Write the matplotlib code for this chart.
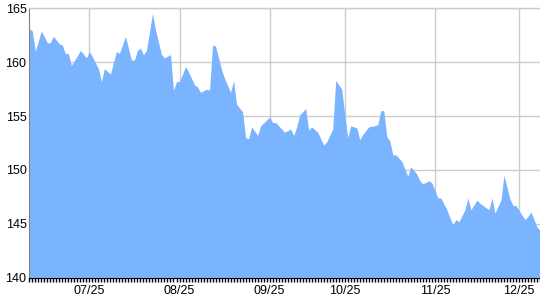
import matplotlib
matplotlib.use("Agg")
import matplotlib.pyplot as plt
from matplotlib.ticker import MultipleLocator

# trading-day index and closing values
days = [0, 1, 2, 4, 6, 7, 8, 10, 11, 12, 13, 14, 16, 17, 19, 20, 21, 23, 24, 25,
        27, 29, 30, 32, 34, 35, 36, 37, 38, 39, 41, 42, 44, 45, 47, 48, 49, 50,
        52, 53, 55, 56, 57, 59, 60, 61, 62, 64, 65, 67, 68, 69, 71, 72, 73, 74,
        76, 77, 80, 81, 82, 84, 85, 87, 88, 89, 90, 92, 93, 94, 96, 97, 98, 99,
        101, 102, 104, 105, 106, 107, 109, 110, 111, 113, 115, 116, 117, 118,
        119, 120, 121, 122, 124, 126, 127, 129, 130, 131, 133, 134, 136, 137,
        139, 141, 142, 143, 145, 146, 147, 149, 150, 153, 154, 155, 157, 158,
        160, 161, 162, 164, 165, 166, 167, 169, 170]
price = [163.1, 162.9, 161.0, 162.9, 161.8, 161.8, 162.4, 161.7, 161.6, 160.8,
         160.8, 159.7, 160.6, 161.1, 160.4, 161.0, 160.5, 159.4, 158.2, 159.4,
         158.9, 161.0, 160.8, 162.4, 160.2, 160.2, 161.1, 161.3, 160.7, 161.1,
         164.5, 163.0, 160.7, 160.4, 160.7, 157.4, 158.2, 158.2,
         159.6, 159.1, 157.9, 157.7, 157.2, 157.5, 157.4, 161.6, 161.5, 159.3,
         158.5, 157.2, 158.3, 156.1, 155.4, 153.0, 152.9, 154.0,
         153.2, 154.1, 154.9, 154.4, 154.4, 153.8, 153.5, 153.8, 153.2, 154.0,
         155.1, 155.7, 153.7, 154.0, 153.5, 152.9, 152.3, 152.6,
         153.8, 158.3, 157.5, 155.2, 153.0, 154.1, 153.9, 152.8, 153.3, 154.0,
         154.1, 154.2, 155.5, 155.5,
         153.1, 152.7, 151.4, 151.4, 150.8, 149.4, 150.3, 149.6, 149.0, 148.7,
         149.0, 148.8, 147.4, 147.4,
         146.3, 144.9, 145.4, 145.2, 146.3, 147.4, 146.3, 147.2, 146.9, 146.3,
         147.4, 146.0, 147.2, 149.5,
         147.3, 146.7, 146.7, 145.8, 145.4, 145.7, 146.1, 144.7, 144.4]

tick_days = [20, 50, 80, 105, 135, 163]
tick_labels = ["07/25", "08/25", "09/25", "10/25", "11/25", "12/25"]
y_ticks = [140, 145, 150, 155, 160, 165]

fig = plt.figure(figsize=(5.4, 3.0), dpi=100)
ax = fig.add_axes([29.3 / 540, 1 - 277.7 / 300, (540 - 29.3) / 540, (277.7 - 8.3) / 300])

ax.fill_between(days, price, 140, color="#7ab4ff", linewidth=0, zorder=2)

ax.set_xlim(0, 170)
ax.set_ylim(140, 165)
ax.set_yticks(y_ticks)
ax.set_xticks(tick_days)
ax.set_xticklabels(tick_labels)
ax.xaxis.set_minor_locator(MultipleLocator(1))

ax.grid(True, which="major", color="#cccccc", linewidth=1, zorder=0)
ax.set_axisbelow(True)

for s in ["top", "right"]:
    ax.spines[s].set_color("#cccccc")
    ax.spines[s].set_linewidth(1)
ax.spines["right"].set_visible(False)
ax.spines["left"].set_color("#808080")
ax.spines["bottom"].set_color("#000000")
ax.spines["bottom"].set_zorder(5)

ax.tick_params(axis="y", length=0, pad=2, labelsize=9, labelcolor="#000000")
ax.tick_params(axis="x", which="major", length=3, width=1, color="#000000",
               pad=2, labelsize=9)
ax.tick_params(axis="x", which="minor", length=3, width=1, color="#000000")

for lab in ax.get_xticklabels() + ax.get_yticklabels():
    lab.set_fontfamily(["Liberation Sans", "DejaVu Sans"])

fig.savefig("out.png", dpi=100)
